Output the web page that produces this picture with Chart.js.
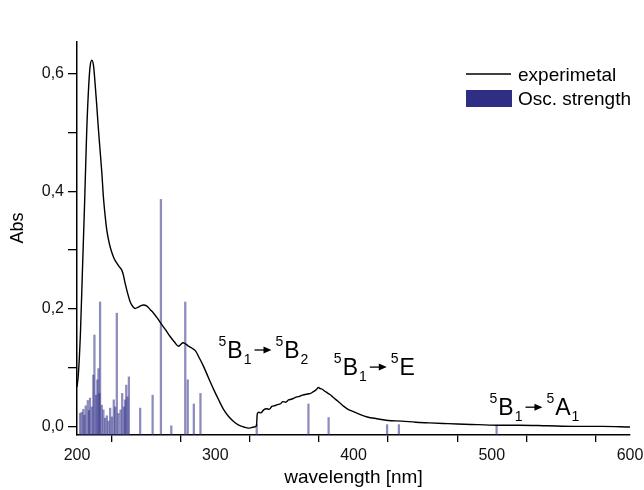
<!DOCTYPE html>
<html>
<head>
<meta charset="utf-8">
<script src="https://cdn.jsdelivr.net/npm/chart.js@4.4.0/dist/chart.umd.min.js"></script>
<style>
  html, body { margin: 0; padding: 0; background: #fff; }
  #wrap { width: 644px; height: 490px; }
</style>
</head>
<body>
<div id="wrap"><canvas id="spec" width="644" height="490"></canvas></div>
<script>
// experimental spectrum (nm / absorbance)
const expWl = [200, 201, 202.5, 204, 205.5, 207, 208.5, 209.5, 210.7, 212, 213, 214.3, 215.5, 216.7, 218, 219.1, 220.5, 221.6, 223.5, 225.2, 227, 228.8, 230.5, 232.4, 233.5, 234.8, 236.5, 238.5, 240.5, 242.1, 244, 245.7, 248, 250.6, 253, 255.4, 258, 260.3, 264, 267.5, 270.5, 273.5, 275, 276.7, 278.5, 280.8, 283, 285.7, 288.5, 291.7, 295, 299, 302.5, 306.2, 310, 313.5, 317, 320.7, 324, 328, 329.8, 330.4, 331.5, 333, 335, 337, 339, 341, 343, 345, 347, 349, 351, 353, 355, 357, 359, 361, 363, 365, 367, 369, 371, 373, 374.5, 376, 377.5, 379, 381, 383, 385, 387.5, 390, 393, 396, 400, 405, 410, 417, 425, 435, 445, 455, 465, 475, 490, 505, 520, 540, 560, 580, 600];
const expAbs = [0.068, 0.09, 0.16, 0.27, 0.38, 0.50, 0.58, 0.612, 0.622, 0.612, 0.585, 0.545, 0.505, 0.469, 0.43, 0.39, 0.355, 0.333, 0.31, 0.296, 0.285, 0.278, 0.272, 0.266, 0.258, 0.244, 0.228, 0.212, 0.204, 0.201, 0.203, 0.205, 0.207, 0.205, 0.199, 0.193, 0.185, 0.177, 0.165, 0.153, 0.144, 0.137, 0.140, 0.143, 0.141, 0.137, 0.134, 0.129, 0.117, 0.102, 0.084, 0.063, 0.046, 0.029, 0.017, 0.009, 0.003, 0.0, -0.002, 0.0, 0.002, 0.022, 0.025, 0.024, 0.029, 0.031, 0.030, 0.035, 0.036, 0.038, 0.039, 0.043, 0.042, 0.046, 0.047, 0.049, 0.051, 0.052, 0.054, 0.055, 0.056, 0.057, 0.060, 0.063, 0.067, 0.065, 0.064, 0.061, 0.058, 0.055, 0.051, 0.046, 0.041, 0.035, 0.030, 0.026, 0.021, 0.017, 0.014, 0.011, 0.010, 0.008, 0.007, 0.006, 0.005, 0.004, 0.003, 0.003, 0.002, 0.001, 0.001, 0.0];

// calculated transitions (nm / oscillator strength)
const oscWl = [202.2, 203.4, 204.6, 205.4, 206.3, 207.8, 208.6, 209.4, 210.7, 211.8, 212.6, 213.8, 214.7, 215.5, 216.2, 216.7, 217.9, 219.1, 220.3, 221.6, 222.8, 224.0, 225.2, 226.6, 227.6, 228.8, 230.0, 231.5, 232.7, 233.9, 234.8, 235.6, 236.5, 237.5, 245.7, 254.7, 260.7, 268.2, 278.3, 280.1, 284.5, 289.3, 330.0, 367.4, 382.0, 424.3, 432.8, 503.5];
const oscF = [0.023, 0.025, 0.030, 0.020, 0.036, 0.045, 0.028, 0.049, 0.034, 0.088, 0.156, 0.054, 0.080, 0.099, 0.057, 0.212, 0.037, 0.029, 0.015, 0.019, 0.010, 0.032, 0.017, 0.046, 0.034, 0.193, 0.023, 0.029, 0.057, 0.034, 0.046, 0.071, 0.051, 0.085, 0.032, 0.054, 0.386, 0.002, 0.212, 0.080, 0.039, 0.057, 0.004, 0.039, 0.016, 0.004, 0.004, 0.003];

const yTicks = [0, 0.1, 0.2, 0.3, 0.4, 0.5, 0.6];
const yMin = -0.0136, yMax = 0.653;

// transition labels: [nm, abs, from, to, toSub]
const transLabels = [
  [302.4, 0.117, 'B', 'B', '2'],
  [385.8, 0.088, 'B', 'E', ''],
  [498.4, 0.020, 'B', 'A', '1']
];

const FONT = '"Liberation Sans", Arial, sans-serif';

function drawArrow(ctx, x, y, len) {
  ctx.beginPath();
  ctx.moveTo(x, y);
  ctx.lineTo(x + len - 6, y);
  ctx.lineWidth = 1.3;
  ctx.stroke();
  ctx.beginPath();
  ctx.moveTo(x + len, y);
  ctx.lineTo(x + len - 8, y - 3.5);
  ctx.lineTo(x + len - 8, y + 3.5);
  ctx.closePath();
  ctx.fill();
}

function drawTerm(ctx, x, y, main, sub) {
  ctx.font = '14px ' + FONT;
  ctx.fillText('5', x, y - 12);
  x += ctx.measureText('5').width + 1;
  ctx.font = '23px ' + FONT;
  ctx.fillText(main, x, y);
  x += ctx.measureText(main).width + 1;
  if (sub) {
    ctx.font = '14px ' + FONT;
    ctx.fillText(sub, x, y + 6);
    x += ctx.measureText(sub).width;
  }
  return x;
}

const extras = {
  id: 'extras',
  afterDatasetsDraw(chart) {
    const ctx = chart.ctx;
    const xs = chart.scales.x, ys = chart.scales.y;
    ctx.save();
    ctx.fillStyle = '#000';
    ctx.strokeStyle = '#000';
    ctx.textBaseline = 'alphabetic';
    ctx.textAlign = 'left';
    transLabels.forEach(t => {
      let x = xs.getPixelForValue(t[0]);
      const y = ys.getPixelForValue(t[1]);
      x = drawTerm(ctx, x, y, t[2], '1');
      drawArrow(ctx, x + 3, y - 8, 17);
      drawTerm(ctx, x + 24, y, t[3], t[4]);
    });

    // legend
    ctx.lineWidth = 1.5;
    ctx.beginPath();
    ctx.moveTo(466, 74);
    ctx.lineTo(511, 74);
    ctx.stroke();
    ctx.fillStyle = '#2e2e84';
    ctx.fillRect(466, 90, 46, 17);
    ctx.fillStyle = '#000';
    ctx.font = '19px ' + FONT;
    ctx.fillText('experimetal', 518, 81);
    ctx.fillText('Osc. strength', 518, 105);

    // axis titles
    ctx.textAlign = 'center';
    ctx.textBaseline = 'middle';
    ctx.font = '19px ' + FONT;
    ctx.fillText('wavelength [nm]', (xs.left + xs.right) / 2, 478);
    ctx.translate(18, 228);
    ctx.rotate(-Math.PI / 2);
    ctx.font = '18px ' + FONT;
    ctx.fillText('Abs', 0, 0);
    ctx.restore();
  }
};

const ctx = document.getElementById('spec').getContext('2d');
const myChart = new Chart(ctx, {
  data: {
    datasets: [
      {
        type: 'line',
        label: 'experimetal',
        data: expWl.map((w, i) => ({ x: w, y: expAbs[i] })),
        borderColor: '#000',
        borderWidth: 1.4,
        pointRadius: 0,
        cubicInterpolationMode: 'monotone',
        fill: false,
        order: 1
      },
      {
        type: 'bar',
        label: 'Osc. strength',
        data: oscWl.map((w, i) => ({ x: w, y: oscF[i] })),
        backgroundColor: 'rgba(45,45,135,0.55)',
        borderWidth: 0,
        barThickness: 1.6,
        grouped: false,
        base: yMin,
        order: 2
      }
    ]
  },
  options: {
    responsive: false,
    animation: false,
    layout: { padding: { top: 42, right: 14, left: 0, bottom: 0 } },
    plugins: {
      legend: { display: false },
      tooltip: { enabled: false }
    },
    scales: {
      x: {
        type: 'linear',
        min: 200,
        max: 600,
        offset: false,
        afterFit: (s) => { s.height = 55; s.paddingRight = 0; s.paddingLeft = 0; },
        grid: { display: true, drawOnChartArea: false, drawTicks: true, tickLength: 7, color: '#000', lineWidth: 1.3 },
        border: { display: true, color: '#000', width: 1.5 },
        ticks: {
          stepSize: 50,
          autoSkip: false,
          maxRotation: 0,
          padding: 4,
          color: '#111',
          font: { family: FONT, size: 16 },
          callback: (v) => (v % 100 === 0 ? String(v) : '')
        }
      },
      y: {
        type: 'linear',
        min: yMin,
        max: yMax,
        afterFit: (s) => { s.width = 77; },
        afterBuildTicks: (s) => { s.ticks = yTicks.map(v => ({ value: v })); },
        grid: { display: true, drawOnChartArea: false, drawTicks: true, tickLength: 9, color: '#000', lineWidth: 1.3 },
        border: { display: true, color: '#000', width: 1.5 },
        ticks: {
          autoSkip: false,
          padding: 4,
          color: '#111',
          font: { family: FONT, size: 16 },
          callback: (v) => {
            const k = Math.round(v * 10);
            return k % 2 === 0 ? (k / 10).toFixed(1).replace('.', ',') : '';
          }
        }
      }
    }
  },
  plugins: [extras]
});
</script>
</body>
</html>
